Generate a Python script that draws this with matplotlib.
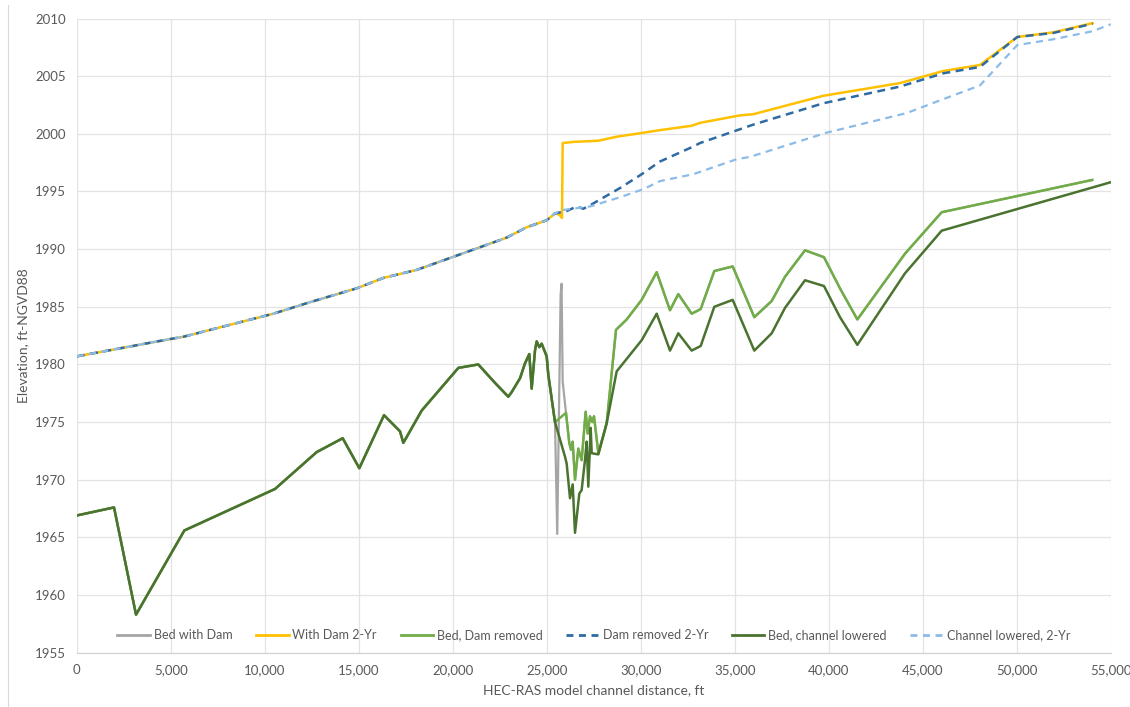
import matplotlib.pyplot as plt
from matplotlib.lines import Line2D

plt.rcParams['font.family'] = ['Lato', 'DejaVu Sans']

# ---------------- DATA ----------------
# common upstream bed (x in ft, elevation in ft)
bed_up_x = [0, 1984, 3154, 5724, 10548, 12766, 14148, 15032, 16346, 17197, 17374,
            18350, 20300, 21362, 22250, 22958, 23137, 23580, 23846, 24075, 24200,
            24377, 24466, 24607, 24733, 24999, 25085, 25441]
bed_up_y = [1966.9, 1967.6, 1958.3, 1965.6, 1969.2, 1972.4, 1973.6, 1971.0, 1975.6,
            1974.2, 1973.2, 1976.0, 1979.7, 1980.0, 1978.4, 1977.2, 1977.6, 1978.8,
            1980.1, 1980.9, 1977.9, 1981.2, 1982.0, 1981.5, 1981.8, 1980.7, 1979.1,
            1975.0]

# bed, dam removed (downstream of 25441)
bed_rm_x = [26026, 26200, 26293, 26382, 26505, 26682, 26859, 27072, 27178, 27303,
            27424, 27516, 27747, 28190, 28686, 29254, 30052, 30850, 31558, 32000,
            32712, 33191, 33915, 34894, 36043, 36968, 37675, 38740, 39750, 40600,
            41524, 44057, 46010, 54020]
bed_rm_y = [1975.8, 1973.2, 1972.6, 1973.3, 1970.0, 1972.7, 1971.7, 1975.9, 1974.0,
            1975.5, 1975.0, 1975.5, 1972.3, 1974.9, 1983.0, 1983.9, 1985.6, 1988.0,
            1984.7, 1986.1, 1984.4, 1984.8, 1988.1, 1988.5, 1984.1, 1985.5, 1987.6,
            1989.9, 1989.3, 1986.6, 1983.9, 1989.6, 1993.2, 1996.0]

# bed with dam: spike at the dam
dam_x = [25560, 25740, 25790, 25850]
dam_y = [1965.3, 1986.0, 1987.0, 1978.5]

# bed, channel lowered (downstream of 25441)
bed_lo_x = [25973, 26062, 26239, 26382, 26505, 26735, 26859, 27036, 27125, 27213,
            27339, 27393, 27747, 28190, 28722, 30052, 30850, 31558, 32000, 32712,
            33191, 33915, 34894, 36043, 36968, 37675, 38740, 39750, 40600, 41524,
            44057, 46010, 55000]
bed_lo_y = [1972.0, 1971.4, 1968.4, 1969.6, 1965.4, 1968.8, 1969.1, 1971.7, 1973.3,
            1969.4, 1974.5, 1972.3, 1972.2, 1974.9, 1979.4, 1982.1, 1984.4, 1981.2,
            1982.7, 1981.2, 1981.6, 1985.0, 1985.6, 1981.2, 1982.7, 1984.9, 1987.3,
            1986.8, 1984.1, 1981.7, 1987.9, 1991.6, 1995.8]

# common upstream water surface, 2-yr
ws_up_x = [0, 4963, 5670, 10458, 12410, 14893, 16308, 17197, 18085, 20830, 22872,
           23936, 24999, 25441]
ws_up_y = [1980.7, 1982.2, 1982.4, 1984.4, 1985.4, 1986.6, 1987.5, 1987.85, 1988.2,
           1989.8, 1991.0, 1991.9, 1992.5, 1993.1]

# with dam 2-yr downstream
ws_dam_x = [25670, 25813, 25850, 26414, 27746, 28722, 29962, 30936, 32712, 33154,
            35282, 35990, 39714, 43793, 46098, 48047, 50032, 51947, 54040]
ws_dam_y = [1993.0, 1992.7, 1999.2, 1999.3, 1999.4, 1999.75, 2000.05, 2000.3, 2000.7,
            2000.95, 2001.6, 2001.7, 2003.3, 2004.4, 2005.45, 2005.97, 2008.4, 2008.8,
            2009.6]

# dam removed 2-yr downstream
ws_rm_x = [26062, 26594, 26946, 27303, 28899, 29962, 31026, 32799, 33154, 35105,
           35990, 39714, 43793, 46098, 48047, 50032, 51947, 54040]
ws_rm_y = [1993.3, 1993.7, 1993.5, 1993.8, 1995.3, 1996.4, 1997.6, 1998.9, 1999.2,
           2000.3, 2000.8, 2002.65, 2004.1, 2005.25, 2005.8, 2008.4, 2008.75, 2009.55]

# channel lowered 2-yr downstream
ws_lo_x = [25882, 27303, 28899, 30140, 31026, 32799, 33154, 35105, 35813, 39890,
           44146, 45919, 48047, 50032, 51947, 54040, 55000]
ws_lo_y = [1993.4, 1993.7, 1994.5, 1995.2, 1995.9, 1996.5, 1996.7, 1997.8, 1998.0,
           2000.1, 2001.8, 2002.9, 2004.2, 2007.7, 2008.2, 2008.9, 2009.5]

labels = ['Bed with Dam', 'With Dam 2-Yr', 'Bed, Dam removed',
          'Dam removed 2-Yr', 'Bed, channel lowered', 'Channel lowered, 2-Yr']
colors = ['#A5A5A5', '#FFC000', '#70AD47', '#2E6BA3', '#4B7330', '#8DBBE8']

# ---------------- PLOT ----------------
fig = plt.figure(figsize=(11.3, 7.07), dpi=100)
ax = fig.add_axes([0.0679, 0.0768, 0.9150, 0.8970])

ax.plot(bed_up_x + dam_x + bed_rm_x, bed_up_y + dam_y + bed_rm_y,
        color=colors[0], lw=1.6)
ax.plot(ws_up_x + ws_dam_x, ws_up_y + ws_dam_y, color=colors[1], lw=1.8)
ax.plot(bed_up_x + bed_rm_x, bed_up_y + bed_rm_y, color=colors[2], lw=1.8)
ax.plot(ws_up_x + ws_rm_x, ws_up_y + ws_rm_y, color=colors[3], lw=1.8,
        dashes=(3.2, 2.2))
ax.plot(bed_up_x + bed_lo_x, bed_up_y + bed_lo_y, color=colors[4], lw=1.8)
ax.plot(ws_up_x + ws_lo_x, ws_up_y + ws_lo_y, color=colors[5], lw=1.6,
        dashes=(3.2, 2.4))

ax.set_xlim(0, 55000)
ax.set_ylim(1955, 2010)
ax.set_xticks(range(0, 55001, 5000))
ax.set_xticklabels(['{:,}'.format(v) for v in range(0, 55001, 5000)])
ax.set_yticks(range(1955, 2011, 5))

ax.grid(True, color='#E3E3E3', lw=0.9)
ax.set_axisbelow(True)
for s in ['top', 'right', 'left']:
    ax.spines[s].set_visible(False)
ax.spines['bottom'].set_color('#D0D0D0')
ax.tick_params(length=0, labelsize=9.5, labelcolor='#595959', pad=8)

ax.set_xlabel('HEC-RAS model channel distance, ft', fontsize=10, color='#595959',
              labelpad=6)
ax.set_ylabel('Elevation, ft-NGVD88', fontsize=10, color='#595959', labelpad=4)

handles = [Line2D([], [], color=colors[0], lw=2),
           Line2D([], [], color=colors[1], lw=2),
           Line2D([], [], color=colors[2], lw=2),
           Line2D([], [], color=colors[3], lw=2, dashes=(2.5, 2)),
           Line2D([], [], color=colors[4], lw=2),
           Line2D([], [], color=colors[5], lw=2, dashes=(2.5, 2))]
leg = ax.legend(handles, labels, loc='lower center', bbox_to_anchor=(0.5, 0.0),
                ncol=6, frameon=False, fontsize=9, handlelength=2.6,
                handletextpad=0.3, columnspacing=1.9)
for t in leg.get_texts():
    t.set_color('#595959')

# thin frame line at the left edge of the image
fig.add_artist(Line2D([0.007, 0.007], [0.0, 0.993], color='#D9D9D9', lw=0.8))

fig.savefig('out.png', dpi=100)
